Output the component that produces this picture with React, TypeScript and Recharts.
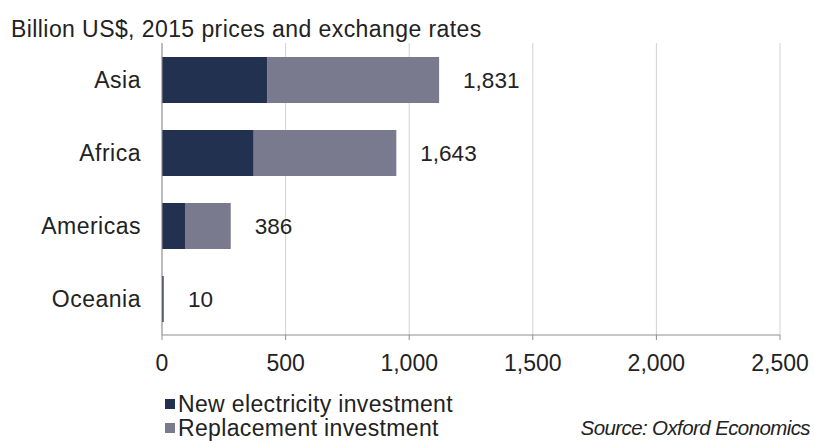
import React from "react";
import { BarChart, Bar, XAxis, YAxis, CartesianGrid, LabelList } from "recharts";

const categories = ["Asia", "Africa", "Americas", "Oceania"];
const newInvestment = [427, 371, 93, 4];
const replacementInvestment = [694, 577, 185, 4];
const totalLabels = ["1,831", "1,643", "386", "10"];
const xTicks = [0, 500, 1000, 1500, 2000, 2500];

const NEW_COLOR = "#22314f";
const REPL_COLOR = "#797a8e";
const FONT = "'Liberation Sans', Arial, sans-serif";

const data = categories.map((name, i) => ({
  name,
  newInv: newInvestment[i],
  repl: replacementInvestment[i],
  label: totalLabels[i],
}));

const TotalLabel = (props: any) => {
  const { x, y, width, height, index } = props;
  return (
    <text
      x={x + width + 24}
      y={y + height / 2}
      dy="0.355em"
      fontSize={22.5}
      fontFamily={FONT}
      fill="#222"
    >
      {totalLabels[index]}
    </text>
  );
};

export default function App() {
  return (
    <div style={{ position: "absolute", left: 0, top: 0, width: 814, height: 441, background: "#fff", fontFamily: FONT }}>
      <div style={{ position: "absolute", left: 11, top: 18, fontSize: 23, lineHeight: "23px", letterSpacing: 0.42, color: "#222", whiteSpace: "nowrap" }}>
        Billion US$, 2015 prices and exchange rates
      </div>
      <BarChart
        width={814}
        height={441}
        data={data}
        layout="vertical"
        margin={{ top: 43, right: 34, bottom: 76, left: 0 }}
        barSize={46}
      >
        <CartesianGrid horizontal={false} vertical={true} stroke="#d2d2d2" />
        <XAxis
          type="number"
          domain={[0, 2500]}
          ticks={xTicks}
          interval={0}
          height={30}
          tickSize={5}
          tickMargin={15}
          axisLine={{ stroke: "#8e8e8e" }}
          tickLine={{ stroke: "#8e8e8e" }}
          tick={{ fontSize: 23, fill: "#222", fontFamily: FONT }}
          tickFormatter={(v: number) => v.toLocaleString("en-US")}
        />
        <YAxis
          type="category"
          dataKey="name"
          width={162}
          tickSize={0}
          tickMargin={21}
          axisLine={{ stroke: "#8e8e8e" }}
          tickLine={false}
          tick={{ fontSize: 23, fill: "#222", fontFamily: FONT, letterSpacing: 0.5 }}
        />
        <Bar dataKey="newInv" stackId="a" fill={NEW_COLOR} isAnimationActive={false} />
        <Bar dataKey="repl" stackId="a" fill={REPL_COLOR} isAnimationActive={false}>
          <LabelList dataKey="label" content={<TotalLabel />} />
        </Bar>
      </BarChart>
      <div style={{ position: "absolute", left: 165, top: 392, fontSize: 23, lineHeight: "24px", letterSpacing: 0.35, color: "#222", whiteSpace: "nowrap" }}>
        <div style={{ display: "flex", alignItems: "center" }}>
          <span style={{ display: "inline-block", width: 10, height: 10, background: NEW_COLOR, marginRight: 3 }} />
          New electricity investment
        </div>
        <div style={{ display: "flex", alignItems: "center" }}>
          <span style={{ display: "inline-block", width: 10, height: 10, background: REPL_COLOR, marginRight: 3 }} />
          Replacement investment
        </div>
      </div>
      <div style={{ position: "absolute", right: 4, top: 416, fontSize: 20.5, lineHeight: "24px", letterSpacing: -0.6, color: "#222", fontStyle: "italic", whiteSpace: "nowrap" }}>
        Source: Oxford Economics
      </div>
    </div>
  );
}
